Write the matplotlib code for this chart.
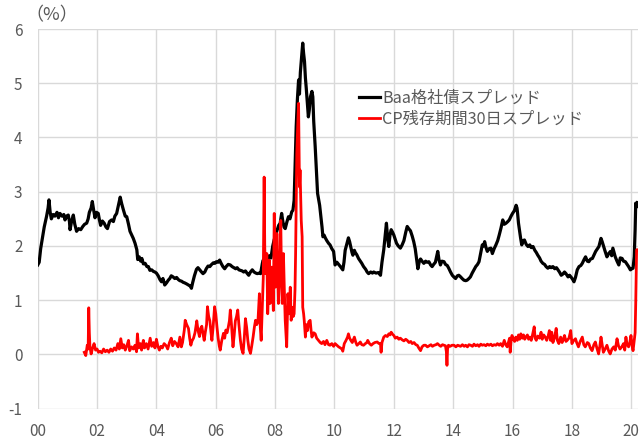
import matplotlib
matplotlib.use("Agg")
import matplotlib.pyplot as plt
import numpy as np

plt.rcParams['font.family'] = ['Noto Sans CJK JP', 'DejaVu Sans']

# Baa corporate bond spread (decimal year, %)
baa_t = [2000.00, 2000.05, 2000.10, 2000.16, 2000.22, 2000.30, 2000.35, 2000.38, 2000.42, 2000.46,
         2000.52, 2000.58, 2000.65, 2000.70, 2000.75, 2000.82, 2000.88, 2000.92, 2000.97, 2001.03,
         2001.07, 2001.09, 2001.14, 2001.20, 2001.25, 2001.31, 2001.38, 2001.45, 2001.52, 2001.58,
         2001.65, 2001.70, 2001.74, 2001.80, 2001.84, 2001.88, 2001.93, 2001.98, 2002.04, 2002.08,
         2002.12, 2002.18, 2002.24, 2002.30, 2002.35, 2002.42, 2002.49, 2002.55, 2002.60, 2002.66,
         2002.72, 2002.78, 2002.83, 2002.89, 2002.95, 2003.00, 2003.06, 2003.11, 2003.17, 2003.22,
         2003.28, 2003.34, 2003.37, 2003.42, 2003.47, 2003.51, 2003.56, 2003.62, 2003.68, 2003.73,
         2003.78, 2003.84, 2003.90, 2003.95, 2004.00, 2004.06, 2004.12, 2004.17, 2004.22, 2004.28,
         2004.34, 2004.40, 2004.45, 2004.50, 2004.56, 2004.62, 2004.68, 2004.74, 2004.79, 2004.85,
         2004.90, 2004.95, 2005.02, 2005.08, 2005.14, 2005.18, 2005.22, 2005.28, 2005.35, 2005.40,
         2005.46, 2005.52, 2005.57, 2005.63, 2005.68, 2005.74, 2005.80, 2005.86, 2005.92, 2005.97,
         2006.02, 2006.08, 2006.13, 2006.18, 2006.24, 2006.30, 2006.35, 2006.42, 2006.49, 2006.55,
         2006.61, 2006.67, 2006.72, 2006.78, 2006.84, 2006.89, 2006.94, 2007.00, 2007.05, 2007.11,
         2007.17, 2007.23, 2007.29, 2007.35, 2007.40, 2007.46, 2007.51, 2007.57, 2007.60, 2007.65,
         2007.68, 2007.74, 2007.80, 2007.86, 2007.92, 2007.97, 2008.02, 2008.06, 2008.12, 2008.17,
         2008.22, 2008.26, 2008.30, 2008.34, 2008.40, 2008.45, 2008.50, 2008.56, 2008.60, 2008.64,
         2008.67, 2008.71, 2008.75, 2008.79, 2008.82, 2008.85, 2008.88, 2008.93, 2008.96, 2008.99,
         2009.02, 2009.05, 2009.09, 2009.12, 2009.15, 2009.19, 2009.24, 2009.27, 2009.30, 2009.35,
         2009.40, 2009.43, 2009.47, 2009.50, 2009.54, 2009.58, 2009.61, 2009.65, 2009.69, 2009.74,
         2009.80, 2009.85, 2009.91, 2009.97, 2010.02, 2010.08, 2010.14, 2010.20, 2010.28, 2010.32,
         2010.36, 2010.42, 2010.47, 2010.51, 2010.55, 2010.59, 2010.62, 2010.67, 2010.70, 2010.75,
         2010.81, 2010.87, 2010.92, 2010.98, 2011.05, 2011.10, 2011.15, 2011.22, 2011.28, 2011.32,
         2011.40, 2011.48, 2011.55, 2011.60, 2011.66, 2011.71, 2011.75, 2011.79, 2011.83, 2011.87,
         2011.91, 2011.96, 2012.00, 2012.05, 2012.09, 2012.15, 2012.22, 2012.28, 2012.34, 2012.40,
         2012.45, 2012.50, 2012.56, 2012.62, 2012.67, 2012.72, 2012.77, 2012.81, 2012.86, 2012.90,
         2012.95, 2013.01, 2013.07, 2013.12, 2013.18, 2013.24, 2013.29, 2013.34, 2013.40, 2013.45,
         2013.48, 2013.52, 2013.57, 2013.62, 2013.69, 2013.74, 2013.80, 2013.85, 2013.91, 2013.97,
         2014.02, 2014.08, 2014.14, 2014.19, 2014.25, 2014.30, 2014.36, 2014.42, 2014.47, 2014.53,
         2014.58, 2014.64, 2014.70, 2014.76, 2014.82, 2014.87, 2014.92, 2014.98, 2015.02, 2015.06,
         2015.10, 2015.15, 2015.21, 2015.27, 2015.32, 2015.38, 2015.44, 2015.50, 2015.55, 2015.61,
         2015.67, 2015.72, 2015.78, 2015.84, 2015.89, 2015.95, 2016.00, 2016.06, 2016.12, 2016.15,
         2016.17, 2016.20, 2016.23, 2016.27, 2016.31, 2016.36, 2016.40, 2016.46, 2016.52, 2016.58,
         2016.63, 2016.69, 2016.75, 2016.80, 2016.85, 2016.91, 2016.96, 2017.02, 2017.08, 2017.13,
         2017.19, 2017.25, 2017.30, 2017.36, 2017.42, 2017.48, 2017.53, 2017.58, 2017.64, 2017.69,
         2017.75, 2017.80, 2017.87, 2017.92, 2017.98, 2018.03, 2018.07, 2018.12, 2018.18, 2018.24,
         2018.30, 2018.35, 2018.41, 2018.46, 2018.52, 2018.57, 2018.63, 2018.69, 2018.74, 2018.80,
         2018.86, 2018.91, 2018.95, 2018.98, 2019.02, 2019.07, 2019.12, 2019.18, 2019.24, 2019.30,
         2019.34, 2019.38, 2019.42, 2019.46, 2019.52, 2019.58, 2019.63, 2019.69, 2019.74, 2019.80,
         2019.86, 2019.91, 2019.97, 2020.02, 2020.06, 2020.10, 2020.13, 2020.15, 2020.18, 2020.21]
baa_v = [1.65, 1.70, 1.95, 2.15, 2.35, 2.55, 2.70, 2.85, 2.62, 2.50,
         2.58, 2.55, 2.62, 2.52, 2.60, 2.55, 2.58, 2.48, 2.55, 2.57,
         2.45, 2.30, 2.45, 2.57, 2.40, 2.27, 2.32, 2.30, 2.36, 2.40,
         2.42, 2.50, 2.62, 2.70, 2.82, 2.68, 2.52, 2.62, 2.60, 2.48,
         2.38, 2.46, 2.42, 2.35, 2.32, 2.45, 2.48, 2.45, 2.55, 2.60,
         2.75, 2.90, 2.78, 2.66, 2.55, 2.54, 2.40, 2.27, 2.20, 2.14,
         2.05, 1.93, 1.75, 1.80, 1.72, 1.77, 1.67, 1.68, 1.62, 1.62,
         1.55, 1.56, 1.53, 1.52, 1.50, 1.45, 1.38, 1.34, 1.40, 1.28,
         1.32, 1.37, 1.40, 1.45, 1.43, 1.40, 1.42, 1.38, 1.36, 1.35,
         1.33, 1.32, 1.30, 1.28, 1.26, 1.22, 1.32, 1.45, 1.57, 1.60,
         1.56, 1.52, 1.49, 1.52, 1.58, 1.63, 1.62, 1.66, 1.69, 1.68,
         1.71, 1.70, 1.74, 1.68, 1.62, 1.58, 1.62, 1.66, 1.65, 1.62,
         1.60, 1.58, 1.60, 1.56, 1.55, 1.54, 1.52, 1.54, 1.50, 1.46,
         1.52, 1.56, 1.52, 1.50, 1.49, 1.50, 1.49, 1.68, 1.74, 1.62,
         1.75, 1.65, 1.82, 1.78, 2.00, 2.12, 2.18, 2.28, 2.38, 2.42,
         2.60, 2.45, 2.35, 2.32, 2.45, 2.54, 2.50, 2.63, 2.66, 2.84,
         3.40, 4.20, 4.70, 5.06, 4.80, 5.20, 5.40, 5.74, 5.55, 5.40,
         5.10, 4.90, 4.60, 4.38, 4.50, 4.75, 4.85, 4.75, 4.30, 3.83,
         3.30, 2.97, 2.85, 2.75, 2.55, 2.35, 2.17, 2.20, 2.15, 2.10,
         2.05, 2.02, 1.95, 1.90, 1.65, 1.70, 1.66, 1.62, 1.56, 1.70,
         1.92, 2.05, 2.15, 2.08, 1.98, 1.88, 1.83, 1.92, 1.88, 1.84,
         1.77, 1.72, 1.68, 1.62, 1.57, 1.52, 1.49, 1.52, 1.50, 1.52,
         1.50, 1.51, 1.46, 1.70, 1.93, 2.20, 2.42, 2.15, 1.99, 2.20,
         2.30, 2.25, 2.20, 2.12, 2.05, 2.00, 1.96, 2.02, 2.10, 2.25,
         2.36, 2.32, 2.28, 2.18, 2.08, 1.95, 1.75, 1.58, 1.72, 1.76,
         1.72, 1.68, 1.72, 1.70, 1.71, 1.65, 1.62, 1.66, 1.70, 1.82,
         1.90, 1.75, 1.65, 1.72, 1.71, 1.66, 1.64, 1.59, 1.52, 1.46,
         1.43, 1.40, 1.45, 1.46, 1.43, 1.40, 1.37, 1.36, 1.37, 1.40,
         1.43, 1.50, 1.56, 1.62, 1.66, 1.71, 1.85, 2.02, 2.00, 2.08,
         1.98, 1.90, 1.95, 1.96, 1.86, 1.95, 2.02, 2.10, 2.20, 2.33,
         2.48, 2.40, 2.42, 2.45, 2.48, 2.55, 2.60, 2.65, 2.75, 2.70,
         2.60, 2.42, 2.30, 2.15, 2.02, 2.10, 2.11, 2.03, 1.99, 2.02,
         1.97, 1.99, 1.92, 1.88, 1.83, 1.78, 1.72, 1.68, 1.66, 1.62,
         1.59, 1.62, 1.60, 1.62, 1.58, 1.60, 1.56, 1.52, 1.46, 1.48,
         1.52, 1.49, 1.43, 1.46, 1.42, 1.38, 1.34, 1.42, 1.56, 1.62,
         1.64, 1.68, 1.75, 1.80, 1.72, 1.71, 1.76, 1.77, 1.83, 1.90,
         1.95, 1.99, 2.08, 2.14, 2.08, 1.99, 1.90, 1.80, 1.86, 1.90,
         1.82, 1.96, 1.88, 1.80, 1.72, 1.65, 1.78, 1.77, 1.72, 1.71,
         1.66, 1.62, 1.56, 1.58, 1.59, 1.80, 2.30, 2.79, 2.72, 2.80]

# CP (30 days to maturity) spread (decimal year, %)
cp_t = [2001.57, 2001.62, 2001.67, 2001.70, 2001.72, 2001.74, 2001.76, 2001.80, 2001.85, 2001.90,
        2001.95, 2002.00, 2002.05, 2002.10, 2002.16, 2002.22, 2002.28, 2002.34, 2002.40, 2002.46,
        2002.52, 2002.58, 2002.64, 2002.70, 2002.75, 2002.80, 2002.85, 2002.90, 2002.95, 2003.00,
        2003.06, 2003.10, 2003.16, 2003.22, 2003.28, 2003.33, 2003.36, 2003.40, 2003.46, 2003.50,
        2003.56, 2003.60, 2003.66, 2003.72, 2003.79, 2003.84, 2003.90, 2003.95, 2004.00, 2004.05,
        2004.10, 2004.15, 2004.20, 2004.26, 2004.33, 2004.38, 2004.44, 2004.50, 2004.55, 2004.61,
        2004.67, 2004.73, 2004.79, 2004.84, 2004.88, 2004.94, 2004.97, 2005.02, 2005.08, 2005.12,
        2005.16, 2005.20, 2005.25, 2005.30, 2005.36, 2005.40, 2005.45, 2005.49, 2005.53, 2005.57,
        2005.61, 2005.65, 2005.69, 2005.72, 2005.76, 2005.80, 2005.84, 2005.87, 2005.91, 2005.96,
        2006.00, 2006.04, 2006.08, 2006.12, 2006.15, 2006.20, 2006.26, 2006.30, 2006.34, 2006.38,
        2006.42, 2006.46, 2006.49, 2006.53, 2006.58, 2006.62, 2006.66, 2006.70, 2006.74, 2006.78,
        2006.83, 2006.87, 2006.92, 2006.96, 2007.00, 2007.04, 2007.08, 2007.12, 2007.17, 2007.21,
        2007.26, 2007.30, 2007.34, 2007.38, 2007.42, 2007.47, 2007.50, 2007.53, 2007.57, 2007.60,
        2007.63, 2007.65, 2007.67, 2007.70, 2007.72, 2007.75, 2007.78, 2007.80, 2007.83, 2007.86,
        2007.89, 2007.92, 2007.94, 2007.97, 2007.99, 2008.01, 2008.04, 2008.06, 2008.09, 2008.11,
        2008.15, 2008.19, 2008.21, 2008.24, 2008.28, 2008.31, 2008.34, 2008.37, 2008.39, 2008.43,
        2008.47, 2008.51, 2008.54, 2008.58, 2008.61, 2008.64, 2008.67, 2008.69, 2008.71, 2008.73,
        2008.76, 2008.79, 2008.81, 2008.82, 2008.84, 2008.86, 2008.88, 2008.91, 2008.93, 2008.96,
        2008.98, 2009.02, 2009.05, 2009.09, 2009.13, 2009.18, 2009.21, 2009.24, 2009.30, 2009.35,
        2009.40, 2009.46, 2009.52, 2009.57, 2009.63, 2009.68, 2009.74, 2009.80, 2009.85, 2009.91,
        2009.97, 2010.02, 2010.08, 2010.14, 2010.20, 2010.25, 2010.28, 2010.33, 2010.38, 2010.44,
        2010.47, 2010.51, 2010.55, 2010.60, 2010.64, 2010.67, 2010.72, 2010.76, 2010.82, 2010.87,
        2010.92, 2010.98, 2011.04, 2011.09, 2011.12, 2011.18, 2011.24, 2011.30, 2011.36, 2011.44,
        2011.50, 2011.55, 2011.57, 2011.60, 2011.66, 2011.72, 2011.78, 2011.83, 2011.87, 2011.91,
        2011.96, 2012.00, 2012.05, 2012.11, 2012.17, 2012.22, 2012.28, 2012.34, 2012.40, 2012.45,
        2012.51, 2012.57, 2012.62, 2012.68, 2012.74, 2012.79, 2012.84, 2012.90, 2012.95, 2013.01,
        2013.07, 2013.13, 2013.19, 2013.25, 2013.30, 2013.36, 2013.42, 2013.47, 2013.53, 2013.58,
        2013.64, 2013.69, 2013.74, 2013.77, 2013.79, 2013.81, 2013.84, 2013.90, 2013.96, 2014.03,
        2014.09, 2014.15, 2014.20, 2014.25, 2014.31, 2014.37, 2014.42, 2014.48, 2014.53, 2014.59,
        2014.65, 2014.70, 2014.76, 2014.82, 2014.87, 2014.93, 2014.98, 2015.04, 2015.10, 2015.15,
        2015.21, 2015.27, 2015.32, 2015.38, 2015.44, 2015.49, 2015.55, 2015.60, 2015.66, 2015.72,
        2015.77, 2015.82, 2015.86, 2015.90, 2015.92, 2015.95, 2015.98, 2016.03, 2016.07, 2016.11,
        2016.16, 2016.20, 2016.24, 2016.28, 2016.33, 2016.37, 2016.41, 2016.45, 2016.50, 2016.54,
        2016.58, 2016.63, 2016.68, 2016.73, 2016.76, 2016.80, 2016.85, 2016.91, 2016.96, 2017.00,
        2017.05, 2017.10, 2017.15, 2017.20, 2017.24, 2017.28, 2017.32, 2017.36, 2017.41, 2017.47,
        2017.51, 2017.56, 2017.62, 2017.67, 2017.71, 2017.75, 2017.80, 2017.84, 2017.90, 2017.96,
        2018.00, 2018.05, 2018.12, 2018.16, 2018.22, 2018.28, 2018.35, 2018.40, 2018.45, 2018.52,
        2018.57, 2018.62, 2018.68, 2018.74, 2018.79, 2018.84, 2018.90, 2018.94, 2018.98, 2019.02,
        2019.06, 2019.12, 2019.18, 2019.24, 2019.29, 2019.35, 2019.41, 2019.46, 2019.52, 2019.57,
        2019.62, 2019.68, 2019.74, 2019.78, 2019.82, 2019.86, 2019.91, 2019.95, 2019.99, 2020.03,
        2020.06, 2020.10, 2020.13, 2020.15, 2020.18, 2020.21]
cp_v = [0.04, -0.02, 0.17, 0.10, 0.86, 0.40, 0.14, 0.01, 0.12, 0.20,
        0.08, 0.10, 0.04, 0.06, 0.03, 0.10, 0.05, 0.08, 0.04, 0.10,
        0.06, 0.12, 0.08, 0.20, 0.10, 0.29, 0.12, 0.18, 0.08, 0.15,
        0.26, 0.07, 0.14, 0.10, 0.17, 0.05, 0.38, 0.12, 0.20, 0.08,
        0.26, 0.12, 0.20, 0.10, 0.30, 0.15, 0.22, 0.12, 0.28, 0.15,
        0.08, 0.15, 0.12, 0.20, 0.16, 0.10, 0.22, 0.30, 0.16, 0.24,
        0.20, 0.14, 0.32, 0.14, 0.22, 0.45, 0.63, 0.55, 0.48, 0.30,
        0.17, 0.25, 0.30, 0.40, 0.62, 0.45, 0.33, 0.48, 0.52, 0.38,
        0.26, 0.42, 0.55, 0.88, 0.70, 0.62, 0.40, 0.26, 0.50, 0.88,
        0.75, 0.51, 0.30, 0.15, 0.08, 0.25, 0.39, 0.30, 0.45, 0.40,
        0.50, 0.62, 0.82, 0.55, 0.14, 0.35, 0.62, 0.70, 0.82, 0.55,
        0.26, 0.10, 0.02, 0.30, 0.66, 0.50, 0.26, 0.10, 0.02, 0.15,
        0.33, 0.50, 0.63, 0.55, 0.60, 1.12, 0.50, 0.26, 0.94, 1.40,
        3.27, 2.00, 1.49, 1.60, 1.86, 0.75, 1.20, 1.74, 0.94, 1.30,
        1.61, 1.10, 0.81, 2.60, 1.80, 1.24, 1.70, 2.23, 1.50, 0.94,
        1.49, 2.47, 1.60, 0.94, 1.86, 1.20, 0.63, 0.35, 0.14, 1.12,
        0.75, 1.24, 0.63, 0.87, 0.70, 0.75, 1.20, 1.86, 2.80, 3.70,
        4.20, 4.63, 3.60, 3.09, 3.40, 2.90, 2.47, 2.17, 0.87, 0.75,
        0.63, 0.32, 0.55, 0.44, 0.60, 0.63, 0.45, 0.32, 0.40, 0.38,
        0.30, 0.26, 0.22, 0.20, 0.24, 0.18, 0.26, 0.18, 0.17, 0.20,
        0.15, 0.20, 0.17, 0.14, 0.12, 0.10, 0.06, 0.20, 0.25, 0.32,
        0.38, 0.30, 0.26, 0.22, 0.28, 0.32, 0.22, 0.17, 0.20, 0.23,
        0.18, 0.17, 0.20, 0.22, 0.26, 0.20, 0.17, 0.20, 0.22, 0.23,
        0.20, 0.20, 0.04, 0.22, 0.32, 0.35, 0.33, 0.38, 0.36, 0.41,
        0.37, 0.35, 0.30, 0.32, 0.28, 0.30, 0.27, 0.25, 0.28, 0.26,
        0.22, 0.24, 0.20, 0.22, 0.18, 0.17, 0.12, 0.07, 0.14, 0.17,
        0.17, 0.14, 0.16, 0.18, 0.15, 0.17, 0.18, 0.20, 0.17, 0.15,
        0.18, 0.17, 0.16, 0.05, -0.20, 0.10, 0.17, 0.15, 0.17, 0.17,
        0.14, 0.17, 0.16, 0.15, 0.18, 0.15, 0.17, 0.14, 0.18, 0.17,
        0.15, 0.19, 0.16, 0.18, 0.15, 0.19, 0.17, 0.18, 0.16, 0.19,
        0.17, 0.19, 0.16, 0.18, 0.17, 0.20, 0.17, 0.20, 0.15, 0.26,
        0.18, 0.14, 0.22, 0.30, 0.04, 0.25, 0.35, 0.28, 0.24, 0.32,
        0.26, 0.36, 0.28, 0.38, 0.30, 0.36, 0.28, 0.32, 0.36, 0.28,
        0.32, 0.26, 0.38, 0.51, 0.30, 0.26, 0.34, 0.30, 0.41, 0.28,
        0.36, 0.32, 0.26, 0.34, 0.44, 0.26, 0.41, 0.22, 0.30, 0.48,
        0.26, 0.20, 0.32, 0.22, 0.28, 0.35, 0.24, 0.26, 0.30, 0.44,
        0.20, 0.25, 0.29, 0.22, 0.14, 0.24, 0.32, 0.18, 0.14, 0.22,
        0.20, 0.12, 0.07, 0.18, 0.23, 0.12, 0.01, 0.15, 0.32, 0.18,
        0.04, 0.10, 0.17, 0.06, 0.01, 0.10, 0.14, 0.08, 0.29, 0.16,
        0.10, 0.14, 0.20, 0.08, 0.32, 0.18, 0.14, 0.22, 0.35, 0.15,
        0.07, 0.26, 0.40, 0.94, 1.93, 1.93]

series_labels = ["Baa格社債スプレッド", "CP残存期間30日スプレッド"]
unit_label = "（%）"
xtick_years = list(range(2000, 2021, 2))
xtick_labels = [f"{y % 100:02d}" for y in xtick_years]
ytick_vals = list(range(-1, 7))

TEXT = "#595959"
GRID = "#D9D9D9"

fig = plt.figure(figsize=(6.39, 4.41), dpi=100)
ax = fig.add_axes([37.7 / 639, 1 - 408.7 / 441, (637.5 - 37.7) / 639, (408.7 - 29) / 441])

ax.plot(baa_t, baa_v, color="black", lw=2.3, label=series_labels[0], solid_joinstyle="round")
ax.plot(cp_t, cp_v, color="#FF0000", lw=2.0, label=series_labels[1], solid_joinstyle="round")

ax.set_xlim(2000.0, 2020.21)
ax.set_ylim(-1, 6)
ax.set_xticks(xtick_years)
ax.set_xticklabels(xtick_labels)
ax.set_yticks(ytick_vals)
ax.set_yticklabels([str(v) for v in ytick_vals])
ax.tick_params(axis="both", length=0, labelsize=11, colors=TEXT)
ax.tick_params(axis="y", pad=11)
ax.tick_params(axis="x", pad=10.5)

ax.grid(True, color=GRID, lw=1.0)
ax.set_axisbelow(True)
for s in ax.spines.values():
    s.set_visible(False)

leg = ax.legend(loc="upper left", bbox_to_anchor=(0.535, 0.839), frameon=False,
                fontsize=11.7, handlelength=1.3, handletextpad=0.15,
                labelspacing=0.2, borderpad=0, borderaxespad=0)
for t in leg.get_texts():
    t.set_color(TEXT)

# unit label above the y axis
fig.text(25 / 639, 1 - 15.5 / 441, unit_label, fontsize=13, color=TEXT, ha="left", va="center")

fig.savefig("out.png", dpi=100)
